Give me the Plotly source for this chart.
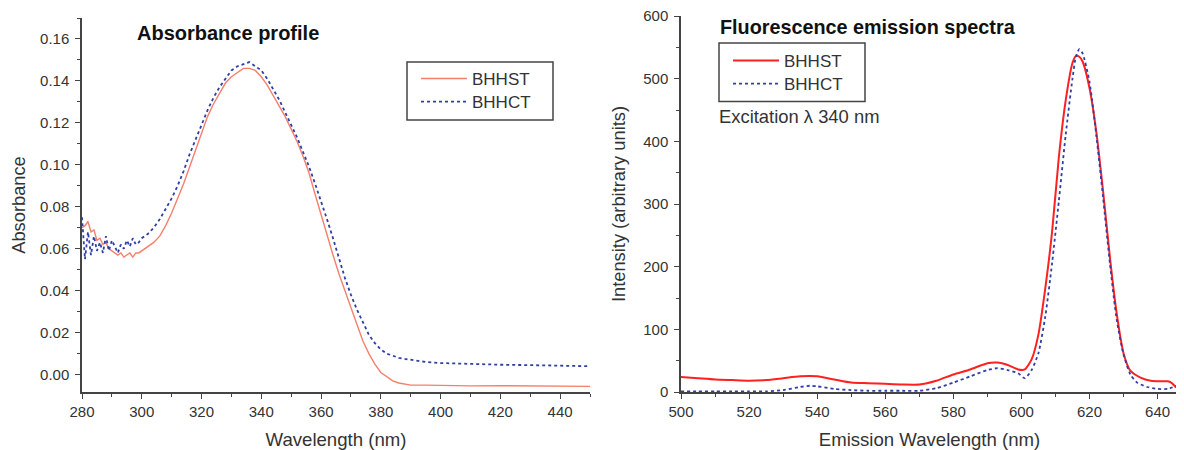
import plotly.graph_objects as go

# ---------------- Absorbance profile data ----------------
abs_wl_st = [280, 281, 282, 283, 284, 285, 286, 287, 288, 289, 290, 291, 292, 293, 294, 295, 296, 297, 298, 299, 300,
             302, 304, 306, 308, 310, 312, 314, 316, 318, 320, 322, 324, 326, 328, 330, 332, 334, 336, 338, 340,
             342, 344, 346, 348, 350, 352, 354, 356, 358, 360, 362, 364, 366, 368, 370, 372, 374, 376, 378, 380,
             382, 384, 386, 388, 390, 395, 400, 410, 420, 430, 440, 450]
abs_bhhst = [0.070, 0.071, 0.073, 0.068, 0.069, 0.064, 0.065, 0.062, 0.063, 0.060, 0.059, 0.058, 0.057, 0.058, 0.056,
             0.057, 0.058, 0.056, 0.058, 0.058, 0.059,
             0.061, 0.063, 0.066, 0.071, 0.077, 0.084, 0.091, 0.099, 0.107, 0.116, 0.123, 0.129, 0.134, 0.139, 0.142,
             0.144, 0.146, 0.146, 0.145, 0.142,
             0.138, 0.133, 0.128, 0.123, 0.117, 0.111, 0.104, 0.096, 0.086, 0.076, 0.066, 0.057, 0.048, 0.040, 0.032,
             0.024, 0.016, 0.010, 0.005, 0.001,
             -0.001, -0.003, -0.004, -0.0045, -0.005, -0.005, -0.0052, -0.0054, -0.0053, -0.0054, -0.0055, -0.0056]

abs_wl_ct = [280, 281, 282, 283, 284, 285, 286, 287, 288, 289, 290, 291, 292, 293, 294, 295, 296, 297, 298, 299, 300,
             302, 304, 306, 308, 310, 312, 314, 316, 318, 320, 322, 324, 326, 328, 330, 332, 334, 336, 338, 340,
             342, 344, 346, 348, 350, 352, 354, 356, 358, 360, 362, 364, 366, 368, 370, 372, 374, 376, 378, 380,
             382, 384, 386, 388, 390, 395, 400, 410, 420, 430, 440, 450]
abs_bhhct = [0.075, 0.055, 0.068, 0.057, 0.066, 0.059, 0.063, 0.058, 0.066, 0.059, 0.064, 0.061, 0.058, 0.062, 0.060,
             0.064, 0.061, 0.065, 0.062, 0.063, 0.065,
             0.067, 0.070, 0.074, 0.079, 0.084, 0.090, 0.097, 0.105, 0.112, 0.119, 0.126, 0.132, 0.137, 0.141, 0.145,
             0.147, 0.148, 0.149, 0.147, 0.145,
             0.141, 0.136, 0.131, 0.125, 0.119, 0.113, 0.106, 0.099, 0.091, 0.083, 0.074, 0.065, 0.055, 0.046, 0.038,
             0.031, 0.025, 0.019, 0.015, 0.012,
             0.010, 0.009, 0.008, 0.0075, 0.007, 0.006, 0.0055, 0.005, 0.0047, 0.0045, 0.0042, 0.004]

# ---------------- Fluorescence emission data ----------------
em_wl_st = [500, 505, 510, 515, 520, 525, 530, 535, 540, 545, 550, 555, 560, 565, 570, 575, 580, 585, 590, 593,
            596, 599, 601, 603, 605, 607, 609, 611, 613, 615, 616, 617, 618, 620, 622, 624, 626, 628, 630, 632,
            635, 638, 641, 643, 644, 645.5]
em_bhhst = [24, 22, 20, 19, 18, 19, 22, 25, 25, 20, 15, 14, 13, 12, 12, 18, 28, 36, 46, 47,
            43, 36, 36, 52, 92, 165, 255, 375, 465, 525, 536, 535, 527, 485, 415, 320, 215, 125, 62, 34,
            23, 18, 17, 17, 15, 7]

em_wl_ct = [500, 505, 510, 515, 520, 525, 530, 535, 538, 540, 545, 550, 555, 560, 565, 570, 575, 580, 585, 590,
            593, 596, 599, 601, 603, 605, 607, 609, 611, 613, 615, 616, 617, 618, 620, 622, 624, 626, 628, 630,
            632, 634, 637, 640, 643, 645.5]
em_bhhct = [1, 1, 1, 1, 1, 1, 3, 8, 10, 9, 5, 3, 2, 2, 2, 2, 6, 15, 25, 35,
            38, 35, 30, 22, 35, 62, 120, 205, 305, 410, 500, 535, 547, 540, 495, 410, 310, 205, 115, 60,
            28, 15, 8, 5, 5, 10]

BLUE = "#2f3fa6"
SALMON = "#f4806c"
RED = "#ff2020"
AX = "#444444"
TXT = "#333333"
FONT = "Liberation Sans, Arial, sans-serif"

# page body has an 8px default margin; positions below are given in screen pixels
OFF = 8
W, H = 1184 - OFF, 450 - OFF
MT, MB = 8, 58
PH = H - MT - MB


def px_x(s):
    return (s - OFF) / W


def px_y(s):
    return (H - MB - (s - OFF)) / PH


fig = go.Figure()

fig.add_trace(go.Scatter(x=abs_wl_st, y=abs_bhhst, mode="lines", name="BHHST",
                         line=dict(color=SALMON, width=1.4), xaxis="x", yaxis="y", legend="legend"))
fig.add_trace(go.Scatter(x=abs_wl_ct, y=abs_bhhct, mode="lines", name="BHHCT",
                         line=dict(color=BLUE, width=1.8, dash="dot"), xaxis="x", yaxis="y", legend="legend2"))
fig.add_trace(go.Scatter(x=em_wl_st, y=em_bhhst, mode="lines", name="BHHST",
                         line=dict(color=RED, width=2, shape="spline", smoothing=0.6),
                         xaxis="x2", yaxis="y2", legend="legend3"))
fig.add_trace(go.Scatter(x=em_wl_ct, y=em_bhhct, mode="lines", name="BHHCT",
                         line=dict(color=BLUE, width=1.8, dash="dot", shape="spline", smoothing=0.6),
                         xaxis="x2", yaxis="y2", legend="legend4"))

axis_common = dict(showline=True, linecolor=AX, linewidth=1.5, ticks="outside", ticklen=5, tickwidth=1.2,
                   tickcolor=AX, showgrid=False, zeroline=False, mirror=False, automargin=False,
                   ticklabeloverflow="allow",
                   tickfont=dict(family=FONT, size=15, color=TXT),
                   minor=dict(ticks="outside", ticklen=3, tickwidth=1.2, tickcolor=AX, showgrid=False))

legend_common = dict(xanchor="left", yanchor="middle", borderwidth=0, bgcolor="rgba(0,0,0,0)",
                     font=dict(family=FONT, size=17, color=TXT), tracegroupgap=0, itemwidth=46)

fig.update_layout(
    width=W, height=H,
    margin=dict(l=0, r=0, t=MT, b=MB),
    paper_bgcolor="white", plot_bgcolor="white",
    font=dict(family=FONT, color=TXT),
    xaxis=dict(domain=[px_x(82), px_x(590)], range=[280, 450], dtick=20, tick0=280,
               minor_dtick=10,
               title=dict(text="Wavelength (nm)", font=dict(size=18.6, color=TXT), standoff=16),
               anchor="y", **axis_common),
    yaxis=dict(domain=[0, px_y(18)], range=[-0.0083, 0.170], dtick=0.02, tick0=0, tickformat=".2f",
               minor_dtick=0.01, ticklabelstandoff=3,
               title=dict(text="Absorbance", font=dict(size=18.3, color=TXT), standoff=13),
               anchor="x", **axis_common),
    xaxis2=dict(domain=[px_x(681), px_x(1178)], range=[500, 646], dtick=20, tick0=500,
                minor_dtick=10,
                title=dict(text="Emission Wavelength (nm)", font=dict(size=18.6, color=TXT), standoff=16),
                anchor="y2", **axis_common),
    yaxis2=dict(domain=[0, px_y(16)], range=[0, 600], dtick=100, tick0=0, minor_dtick=50,
                ticklabelstandoff=3,
                title=dict(text="Intensity (arbitrary units)", font=dict(size=18.3, color=TXT), standoff=13),
                anchor="x2", **axis_common),
    legend=dict(x=px_x(416), y=px_y(79), **legend_common),
    legend2=dict(x=px_x(416), y=px_y(102), **legend_common),
    legend3=dict(x=px_x(728), y=px_y(61), **legend_common),
    legend4=dict(x=px_x(728), y=px_y(84), **legend_common),
    shapes=[
        dict(type="rect", xref="paper", yref="paper", x0=px_x(407), x1=px_x(553), y0=px_y(120), y1=px_y(62),
             line=dict(color=AX, width=1.5), fillcolor="rgba(0,0,0,0)", layer="above"),
        dict(type="rect", xref="paper", yref="paper", x0=px_x(719), x1=px_x(865), y0=px_y(101.5), y1=px_y(43),
             line=dict(color=AX, width=1.5), fillcolor="rgba(0,0,0,0)", layer="above"),
    ],
    annotations=[
        dict(text="<b>Absorbance profile</b>", xref="paper", yref="paper", x=px_x(135), y=px_y(33),
             xanchor="left", yanchor="middle", showarrow=False, font=dict(family=FONT, size=20, color="#111111")),
        dict(text="<b>Fluorescence emission spectra</b>", xref="paper", yref="paper", x=px_x(718), y=px_y(27),
             xanchor="left", yanchor="middle", showarrow=False, font=dict(family=FONT, size=19.8, color="#111111")),
        dict(text="Excitation λ 340 nm", xref="paper", yref="paper", x=px_x(717), y=px_y(116),
             xanchor="left", yanchor="middle", showarrow=False, font=dict(family=FONT, size=18.4, color=TXT)),
    ],
    showlegend=True,
)

fig.write_html("out.html")
